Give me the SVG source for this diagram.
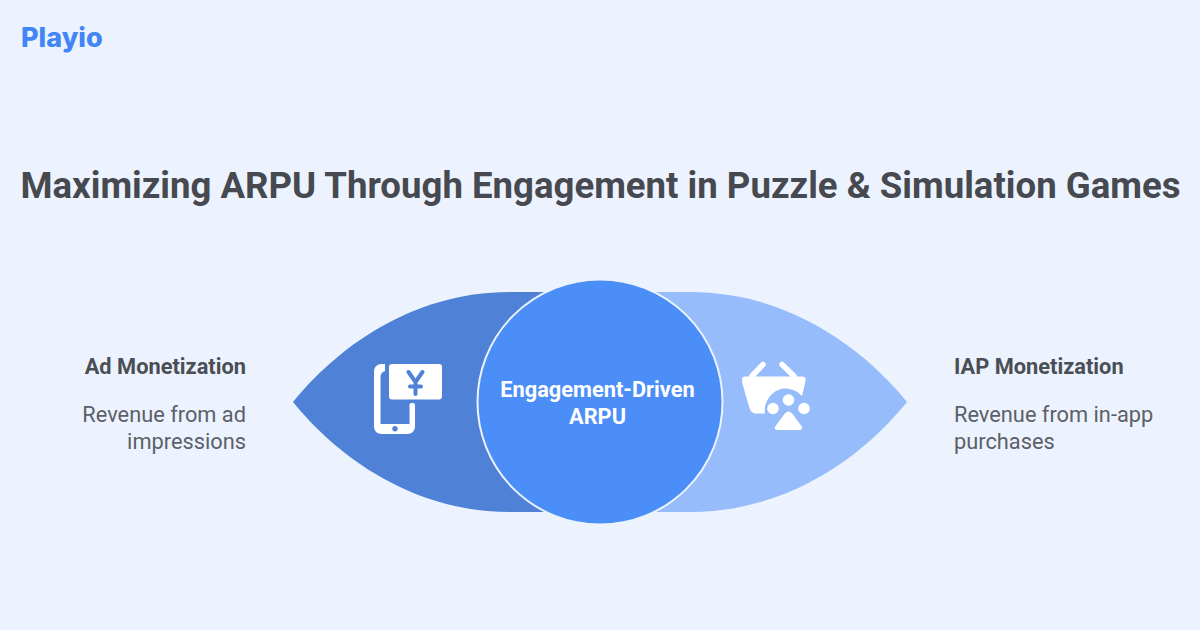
<svg xmlns="http://www.w3.org/2000/svg" width="1200" height="630" viewBox="0 0 1200 630">
<style>
text{font-family:Roboto,"Liberation Sans",sans-serif}
.h{font-size:21.800px;font-weight:700;fill:#4a4e55}
.b{font-size:21.800px;font-weight:400;fill:#5c6068}
.c{font-size:21.800px;font-weight:700;fill:#fff}
</style>
<rect width="1200" height="630" fill="#ecf3fe"/>
<text x="21" y="47" font-size="27" font-weight="800" style="font-family:Inter,sans-serif" fill="#4285f4">Playio</text>
<text x="600.500" y="198" text-anchor="middle" font-size="36.600" font-weight="700" fill="#46494f">Maximizing ARPU Through Engagement in Puzzle &amp; Simulation Games</text>
<g id="left-petal">
<path d="M293 402C335 350 410 292 510 292L560 292V512L510 512C410 512 335 454 293 402Z" fill="#4f82d6"/>
<path fill="#fff" d="M382 364H385V371C382 372 380.500 374 380.500 377V424H409.500V405C409.500 403.500 410.500 403 412 403C414 403 415 403.500 415 405V426C415 431 412 434 407 434H382C377 434 374 431 374 426V372C374 367 377 364 382 364Z"/>
<circle cx="395" cy="428.800" r="2.700" fill="#4f82d6"/>
<rect x="389" y="364" width="53" height="35.500" rx="3" fill="#fff"/>
<path d="M408.500 372L415.500 382L422.500 372M415.500 382V394M410 386.500H421" fill="none" stroke="#4f82d6" stroke-width="4" stroke-linecap="round"/>
</g>
<g id="right-petal">
<path d="M907 402C865 350 790 292 690 292L650 292V512L690 512C790 512 865 454 907 402Z" fill="#96bcfc"/>
<path d="M745 376.500H802C805 376.500 806 378 805.500 381L802 396C796 390 790 388 783 388.500C772 390 763 402 765 413.500H756C752.500 413.500 750.500 411 749.500 408L742.500 384C741.500 379 742 376.500 745 376.500Z" fill="#fff"/>
<path d="M752 376L763 364.500M782 364.500L794 376" stroke="#fff" stroke-width="5.500" stroke-linecap="round" fill="none"/>
<circle cx="773" cy="408.500" r="5.800" fill="#fff"/>
<circle cx="788.500" cy="400" r="5.800" fill="#fff"/>
<circle cx="804" cy="408.500" r="5.800" fill="#fff"/>
<path d="M788.500 411.500C790.500 411.500 791.500 413 792.500 414L801.500 426C803 428 802 430 799.500 430H777.500C775 430 774 428 775.500 426L784.500 414C785.500 413 786.500 411.500 788.500 411.500Z" fill="#fff"/>
</g>
<g id="center">
<circle cx="600" cy="402" r="122.500" fill="#4c8ef7" stroke="#ecf3fe" stroke-width="2"/>
<text class="c" text-anchor="middle"><tspan x="597.500" y="397">Engagement-Driven</tspan><tspan x="597.500" y="424">ARPU</tspan></text>
</g>
<g id="ad-label">
<text class="h" x="246" y="374" text-anchor="end">Ad Monetization</text>
<text class="b" text-anchor="end"><tspan x="246" y="422">Revenue from ad</tspan><tspan x="246" y="449">impressions</tspan></text>
</g>
<g id="iap-label">
<text class="h" x="954" y="374">IAP Monetization</text>
<text class="b"><tspan x="954" y="422">Revenue from in-app</tspan><tspan x="954" y="449">purchases</tspan></text>
</g>
<g id="connectors"/>
</svg>
